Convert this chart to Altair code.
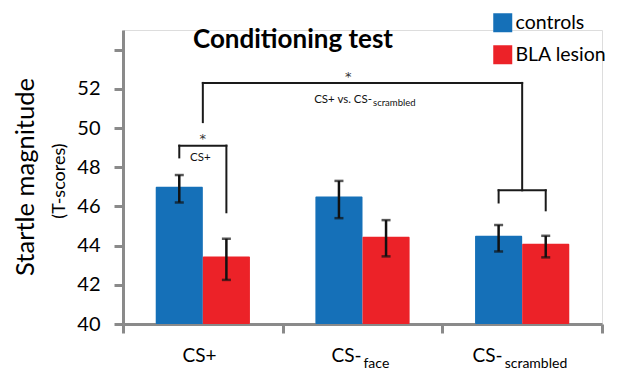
import altair as alt
import pandas as pd

# ---------------- data ----------------
categories = ["CS+", "CS-face", "CS-scrambled"]
label_main = ["CS+", "CS-", "CS-"]
label_sub = ["", "face", "scrambled"]
groups = ["controls", "BLA lesion"]
colors = ["#1570b8", "#ec2228"]

controls_mean = [47.0, 46.5, 44.5]
controls_lo = [46.2, 45.4, 43.7]
controls_hi = [47.6, 47.3, 45.05]
lesion_mean = [43.45, 44.45, 44.1]
lesion_lo = [42.25, 43.45, 43.4]
lesion_hi = [44.35, 45.3, 44.5]

y_ticks = [40, 42, 44, 46, 48, 50, 52, 54]
y_domain = [40, 55]

# significance brackets: (category, group or None for category centre)
bracket_left = [("CS+", "controls"), ("CS+", None), ("CS-scrambled", "controls")]
bracket_right = [("CS+", "BLA lesion"), ("CS-scrambled", None), ("CS-scrambled", "BLA lesion")]
bracket_top = [49.1, 52.3, 46.82]
bracket_left_end = [48.5, 50.3, 46.2]
bracket_right_end = [45.7, 46.82, 45.8]

star_x = [0.5, 1.41]
star_y = [49.55, 52.72]
note_main = ["CS+", "CS+ vs. CS-"]
note_sub = ["", "scrambled"]
note_x = [0.5, 1.56]
note_y = [48.45, 51.45]

# ---------------- layout ----------------
W, H = 479, 294
BAND_PX = W / 3
BAR_W = 0.295
FONT = "Lato"
GRAY = "#8a8a8a"

rows = []
means = [controls_mean, lesion_mean]
los = [controls_lo, lesion_lo]
his = [controls_hi, lesion_hi]
for i, cat in enumerate(categories):
    for g, grp in enumerate(groups):
        x0 = i + 0.5 - BAR_W if g == 0 else i + 0.5
        rows.append(dict(category=cat, group=grp, mean=means[g][i], lo=los[g][i],
                         hi=his[g][i], x0=x0, x1=x0 + BAR_W, mid=x0 + BAR_W / 2))
bars = pd.DataFrame(rows)


def xpos(cat, grp):
    i = categories.index(cat)
    if grp is None:
        return i + 0.5
    return bars[(bars.category == cat) & (bars.group == grp)].mid.iloc[0]


segs = []
for k in range(len(bracket_top)):
    xl = xpos(*bracket_left[k])
    xr = xpos(*bracket_right[k])
    segs.append(dict(x=xl, x2=xl, y=bracket_left_end[k], y2=bracket_top[k]))
    segs.append(dict(x=xl, x2=xr, y=bracket_top[k], y2=bracket_top[k]))
    segs.append(dict(x=xr, x2=xr, y=bracket_top[k], y2=bracket_right_end[k]))
segs = pd.DataFrame(segs)

stars = pd.DataFrame(dict(x=star_x, y=star_y, t=["*"] * len(star_x)))

# category labels (main + subscript)
lab = []
for i, cat in enumerate(categories):
    wm = 9.2 * len(label_main[i])
    ws = 7.4 * len(label_sub[i])
    anchor = i + 0.5 + (wm - ws) / 2 / BAND_PX
    lab.append(dict(main=label_main[i], sub=label_sub[i], ax=anchor))
lab = pd.DataFrame(lab)

notes = []
for k in range(len(note_main)):
    wm = 5.2 * len(note_main[k])
    ax = note_x[k] + (wm / 2 / BAND_PX if not note_sub[k] else 0)
    notes.append(dict(main=note_main[k], sub=note_sub[k], ax=ax, y=note_y[k]))
notes = pd.DataFrame(notes)

xscale = alt.Scale(domain=[0, 3], nice=False, zero=False)
yscale = alt.Scale(domain=y_domain, nice=False, zero=False)

xaxis = alt.Axis(values=[0, 1, 2, 3], labels=False, tickSize=9, tickWidth=3,
                 tickColor=GRAY, domainColor=GRAY, domainWidth=3, grid=False, title=None)
yaxis = alt.Axis(values=y_ticks, labelExpr="datum.value == 54 ? '' : datum.label",
                 tickSize=9, tickWidth=3, tickColor=GRAY, domainColor=GRAY, domainWidth=3,
                 labelFontSize=20, labelFont=FONT, labelColor="black", labelPadding=14,
                 grid=False, title=None)

bar_layer = alt.Chart(bars).mark_bar(cornerRadius=1).encode(
    x=alt.X("x0:Q", scale=xscale, axis=xaxis),
    x2="x1:Q",
    y=alt.Y("mean:Q", scale=yscale, axis=yaxis),
    y2=alt.datum(y_domain[0]),
    color=alt.Color("group:N", scale=alt.Scale(domain=groups, range=colors),
                    legend=alt.Legend(title=None, orient="none", legendX=370, legendY=-17,
                                      symbolType="square", symbolSize=361, symbolStrokeWidth=0,
                                      symbolOpacity=1, labelFontSize=19.5, labelFont=FONT,
                                      labelColor="black", labelOffset=3, rowPadding=11,
                                      padding=0, labelLimit=250)),
)

err_rule = alt.Chart(bars).mark_rule(color="#111111", strokeWidth=2.5).encode(
    x="mid:Q", y="lo:Q", y2="hi:Q")
cap_lo = alt.Chart(bars).mark_tick(color="#111111", orient="horizontal", size=9,
                                   thickness=2.5).encode(x="mid:Q", y="lo:Q")
cap_hi = alt.Chart(bars).mark_tick(color="#111111", orient="horizontal", size=9,
                                   thickness=2.5).encode(x="mid:Q", y="hi:Q")

bracket_layer = alt.Chart(segs).mark_rule(color="#1a1a1a", strokeWidth=2,
                                          strokeCap="square").encode(
    x="x:Q", x2="x2:Q", y="y:Q", y2="y2:Q")

star_layer = alt.Chart(stars).mark_text(font="DejaVu Sans", fontSize=13, color="#333333",
                                        baseline="middle", dy=2).encode(
    x="x:Q", y="y:Q", text="t:N")

note_main_layer = alt.Chart(notes).mark_text(font=FONT, fontSize=11.5, color="#111111",
                                             align="right", baseline="middle").encode(
    x="ax:Q", y="y:Q", text="main:N")
note_sub_layer = alt.Chart(notes).mark_text(font=FONT, fontSize=9.5, color="#111111",
                                            align="left", baseline="middle", dx=1, dy=3).encode(
    x="ax:Q", y="y:Q", text="sub:N")

cat_main_layer = alt.Chart(lab).mark_text(font=FONT, fontSize=19, color="black",
                                          align="right", baseline="alphabetic").encode(
    x="ax:Q", y=alt.value(H + 38), text="main:N")
cat_sub_layer = alt.Chart(lab).mark_text(font=FONT, fontSize=14, color="black",
                                         align="left", baseline="alphabetic", dx=2).encode(
    x="ax:Q", y=alt.value(H + 44), text="sub:N")

title_layer = alt.Chart(pd.DataFrame({"t": ["Conditioning test"]})).mark_text(
    font=FONT, fontSize=26, fontWeight="bold", color="black", align="center",
    baseline="alphabetic").encode(x=alt.value(170), y=alt.value(18), text="t:N")

ytitle_layer = alt.Chart(pd.DataFrame({"t": ["Startle magnitude"]})).mark_text(
    font=FONT, fontSize=25.5, color="black", align="center", baseline="alphabetic",
    angle=270).encode(x=alt.value(-89), y=alt.value(147), text="t:N")
ysub_layer = alt.Chart(pd.DataFrame({"t": ["(T-scores)"]})).mark_text(
    font=FONT, fontSize=18, color="black", align="center", baseline="alphabetic",
    angle=270).encode(x=alt.value(-58), y=alt.value(151), text="t:N")

chart = alt.layer(
    bar_layer, err_rule, cap_lo, cap_hi, bracket_layer, star_layer,
    note_main_layer, note_sub_layer, cat_main_layer, cat_sub_layer,
    title_layer, ytitle_layer, ysub_layer,
).properties(
    width=W, height=H,
    autosize=alt.AutoSizeParams(type="none"),
    padding={"left": 115, "top": 22, "right": 7, "bottom": 46},
).configure_view(stroke=None).configure(background="white")

chart.save("out.html", embed_options={"renderer": "svg", "actions": False})
